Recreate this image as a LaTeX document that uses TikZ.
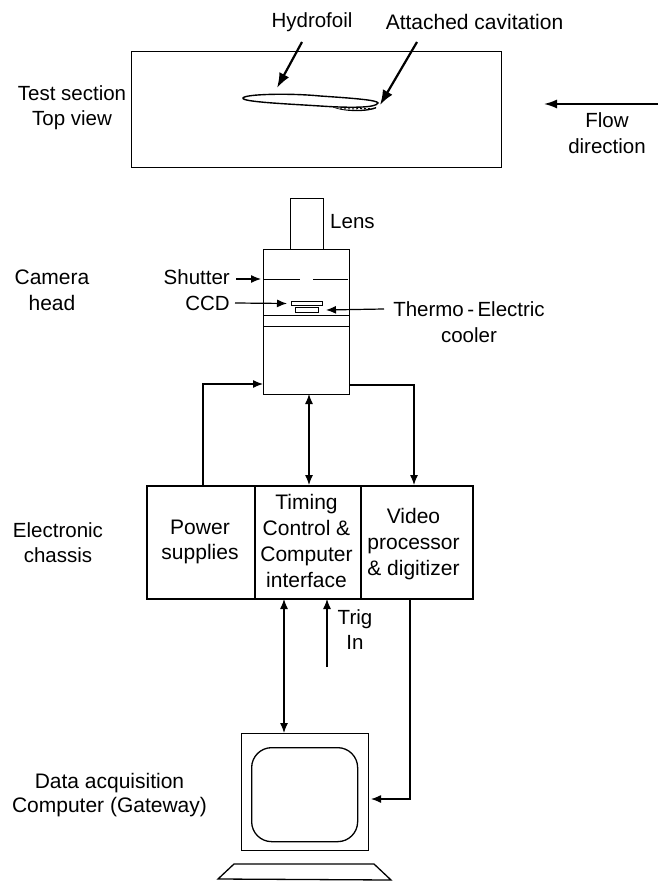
\documentclass[tikz,border=0pt]{standalone}
\usepackage{fontspec}
\setmainfont{Liberation Sans}
\usetikzlibrary{arrows.meta,calc}
\tikzset{
  txt/.style={inner sep=0pt,align=center,font=\fontsize{20.5}{25}\selectfont,text=black},
  txtb/.style={inner sep=0pt,align=center,font=\fontsize{21}{25.7}\selectfont,text=black},
  boxa/.style={draw,line width=1.3pt,inner sep=0pt,fill=none},
  thick box/.style={draw,line width=1.9pt,inner sep=0pt},
  arr/.style={line width=1.2pt,-{Latex[length=10pt,width=8pt]}},
  darr/.style={line width=1.2pt,{Latex[length=10pt,width=8pt]}-{Latex[length=10pt,width=8pt]}},
  bigarr/.style={line width=2.2pt,-{Latex[length=15pt,width=11pt]}},
}
\begin{document}
\begin{tikzpicture}[x=1pt,y=-1pt]
\useasboundingbox (0,0) rectangle (658,882);
% test section
\node[boxa,minimum width=370pt,minimum height=116pt,anchor=north west] (section) at (131,51) {};
\node[txt,anchor=center] (testlabel) at (72,108) {Test section\\Top view};
\node[txt,anchor=center] (hydrolabel) at (312,22) {Hydrofoil};
\node[txtb,anchor=center] (cavlabel) at (474.5,22) {Attached cavitation};
\node[txt,font=\fontsize{20.5}{26}\selectfont,anchor=center] (flowlabel) at (607,133.5) {Flow\\direction};
% hydrofoil
\coordinate (foilL) at (243,98);
\coordinate (foilR) at (378,103);
\fill[black] (333,107) .. controls (345,111) and (365,111) .. (376,107) -- (376,108.5) .. controls (365,112.5) and (345,112) .. (333,107.5) -- cycle;
\draw[line width=1.4pt] (foilL) .. controls (245,94) and (290,93) .. (320,96) .. controls (350,98) and (378,100) .. (foilR) .. controls (376,108) and (350,108) .. (320,106) .. controls (290,104) and (241,102) .. (foilL) -- cycle;
\draw[line width=1pt,dash pattern=on 2pt off 2pt] (340,109) -- (374,108.5);
\coordinate (a1) at (302,42);
\coordinate (a1e) at (277,88);
\coordinate (a2) at (417,42);
\coordinate (a2e) at (380,105);
\draw[bigarr] (a1) -- (a1e);
\draw[bigarr] (a2) -- (a2e);
\coordinate (flowS) at (658,104);
\coordinate (flowE) at (544,104);
\draw[line width=1.5pt,-{Latex[length=13pt,width=9pt]}] (flowS) -- (flowE);
% camera
\node[boxa,minimum width=33pt,minimum height=51pt,anchor=north west] (lens) at (290,198) {};
\node[boxa,minimum width=86pt,minimum height=145pt,anchor=north west] (body) at (263,249) {};
\node[txt,anchor=west] (lenslabel) at (330,222) {Lens};
\node[txtb,anchor=center] (headlabel) at (52,290) {Camera\\head};
\node[txt,anchor=east] (shutlabel) at (230,277) {Shutter};
\node[txt,anchor=east] (ccdlabel) at (230,303) {CCD};
\node[txt,font=\fontsize{20.5}{26}\selectfont,anchor=center] (thermolabel) at (469,322) {Thermo\,-\,Electric\\cooler};
\coordinate (shL) at (264,279); \coordinate (shLe) at (300,279);
\coordinate (shR) at (313,279); \coordinate (shRe) at (348,279);
\draw[line width=1pt] (shL) -- (shLe) (shR) -- (shRe);
\draw[line width=1pt] (body.west |- 0,315) -- (body.east |- 0,315);
\draw[line width=1pt] (body.west |- 0,326) -- (body.east |- 0,326);
\node[boxa,line width=1pt,minimum width=31pt,minimum height=4pt,anchor=north west] (ccd) at (291,301) {};
\node[boxa,line width=1pt,minimum width=23pt,minimum height=5pt,anchor=north west] (cooler) at (295,307) {};
\coordinate (shA) at (236,279); \coordinate (shAe) at (261,279);
\coordinate (ccdA) at (235,303);
\coordinate (thA) at (384,309);
\draw[arr] (shA) -- (shAe);
\draw[arr] (ccdA) -- ($(ccd.west)+(-4,0)$);
\draw[arr] (thA) -- ($(cooler.east)+(7,0)$);
% chassis
\node[thick box,minimum width=108pt,minimum height=113pt,anchor=north west] (power) at (146,485) {};
\node[thick box,minimum width=106pt,minimum height=113pt,anchor=north west] (timing) at (254,485) {};
\node[thick box,minimum width=112pt,minimum height=113pt,anchor=north west] (video) at (360,485) {};
\node[txtb,anchor=center] (powerlabel) at (200,542) {Power\\supplies};
\node[txtb,anchor=center] (timinglabel) at (306.5,541) {Timing\\Control \&\\Computer\\interface};
\node[txtb,anchor=center] (videolabel) at (413.5,544) {Video\\processor\\\& digitizer};
\node[txt,anchor=center] (chassislabel) at (58,542.5) {Electronic\\chassis};
\coordinate (pw1) at (203,485); \coordinate (pw2) at (203,384); \coordinate (pw3) at (263,384);
\draw[arr] (pw1) -- (pw2) -- (pw3);
\coordinate (vd1) at (349,385); \coordinate (vd2) at (414,385); \coordinate (vd3) at (414,485);
\draw[arr] (vd1) -- (vd2) -- (vd3);
\coordinate (mid1) at (309,394); \coordinate (mid2) at (309,485);
\draw[darr] (mid1) -- (mid2);
% monitor
\node[boxa,minimum width=127pt,minimum height=117pt,anchor=north west] (monitor) at (241,733) {};
\node[draw,line width=1.3pt,rounded corners=20pt,inner sep=0pt,minimum width=106pt,minimum height=94pt,anchor=north west] (screen) at (251,747) {};
\draw[line width=1.3pt] (218,879) -- (234,864) -- (374,864) -- (391,880) -- cycle;
\node[txtb,font=\fontsize{21}{24.5}\selectfont,anchor=center] (daqlabel) at (109.5,795) {Data acquisition\\Computer (Gateway)};
\coordinate (bus1) at (284,599); \coordinate (bus2) at (284,733);
\draw[darr] (bus1) -- (bus2);
\coordinate (trig1) at (327,667); \coordinate (trig2) at (327,599);
\draw[arr] (trig1) -- (trig2);
\node[txt,anchor=center] (triglabel) at (355,630) {Trig\\In};
\coordinate (vm1) at (410,598); \coordinate (vm2) at (410,799); \coordinate (vm3) at (371,799);
\draw[arr] (vm1) -- (vm2) -- (vm3);
\end{tikzpicture}
\end{document}
